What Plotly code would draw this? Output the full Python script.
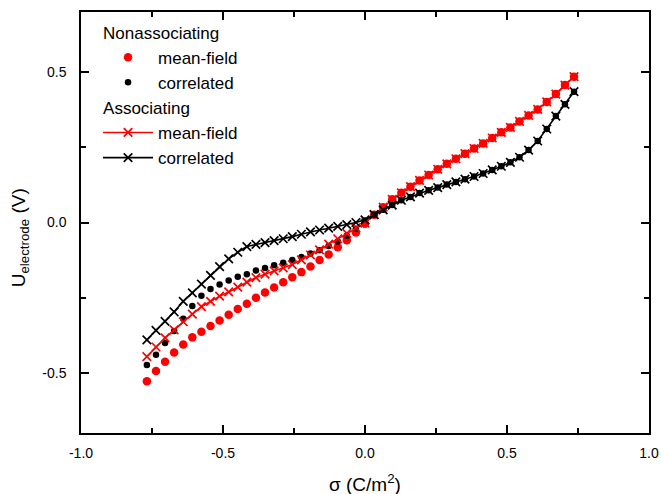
import plotly.graph_objects as go

# surface charge density grid (C/m^2)
sigma = [-0.768, -0.736, -0.704, -0.672, -0.640, -0.608, -0.576, -0.544, -0.512, -0.480,
         -0.448, -0.416, -0.384, -0.352, -0.320, -0.288, -0.256, -0.224, -0.192, -0.160,
         -0.128, -0.096, -0.064, -0.032, 0.000, 0.032, 0.064, 0.096, 0.128, 0.160,
         0.192, 0.224, 0.256, 0.288, 0.320, 0.352, 0.384, 0.416, 0.448, 0.480,
         0.512, 0.544, 0.576, 0.608, 0.640, 0.672, 0.704, 0.736]

# Nonassociating, mean-field
na_mf = [-0.528, -0.494, -0.463, -0.432, -0.406, -0.382, -0.363, -0.344, -0.326, -0.307,
         -0.288, -0.270, -0.250, -0.233, -0.216, -0.199, -0.182, -0.165, -0.146, -0.125,
         -0.106, -0.082, -0.059, -0.033, -0.004, 0.026, 0.051, 0.077, 0.099, 0.119,
         0.140, 0.158, 0.177, 0.195, 0.212, 0.229, 0.246, 0.263, 0.281, 0.300,
         0.316, 0.336, 0.356, 0.376, 0.401, 0.427, 0.457, 0.485]

# Nonassociating, correlated
na_cor = [-0.474, -0.440, -0.401, -0.361, -0.320, -0.278, -0.244, -0.221, -0.206, -0.193,
          -0.180, -0.172, -0.160, -0.151, -0.142, -0.134, -0.125, -0.115, -0.103, -0.092,
          -0.078, -0.063, -0.044, -0.021, 0.007, 0.026, 0.042, 0.058, 0.074, 0.085,
          0.098, 0.107, 0.116, 0.126, 0.135, 0.144, 0.153, 0.163, 0.175, 0.187,
          0.200, 0.217, 0.241, 0.271, 0.311, 0.354, 0.393, 0.435]

# Associating, mean-field
a_mf = [-0.446, -0.414, -0.384, -0.357, -0.330, -0.305, -0.280, -0.262, -0.245, -0.231,
        -0.215, -0.198, -0.183, -0.172, -0.161, -0.151, -0.140, -0.124, -0.108, -0.091,
        -0.072, -0.054, -0.036, -0.018, -0.002, 0.026, 0.051, 0.077, 0.099, 0.119,
        0.140, 0.158, 0.177, 0.195, 0.212, 0.229, 0.246, 0.263, 0.281, 0.300,
        0.316, 0.336, 0.356, 0.376, 0.401, 0.427, 0.457, 0.485]

# Associating, correlated
a_cor = [-0.390, -0.359, -0.329, -0.297, -0.262, -0.234, -0.205, -0.176, -0.147, -0.121,
         -0.099, -0.080, -0.073, -0.067, -0.060, -0.054, -0.047, -0.039, -0.031, -0.025,
         -0.019, -0.013, -0.007, 0.000, 0.009, 0.026, 0.042, 0.058, 0.074, 0.085,
         0.098, 0.107, 0.116, 0.126, 0.135, 0.144, 0.153, 0.163, 0.175, 0.187,
         0.200, 0.217, 0.241, 0.271, 0.311, 0.354, 0.393, 0.435]

x_ticks = [-1.0, -0.5, 0.0, 0.5, 1.0]
x_ticklabels = ["-1.0", "-0.5", "0.0", "0.5", "1.0"]
x_minor = [-0.75, -0.25, 0.25, 0.75]
y_ticks = [-0.5, 0.0, 0.5]
y_ticklabels = ["-0.5", "0.0", "0.5"]
y_minor = [-0.25, 0.25]

RED = "#FF0000"
BLACK = "#000000"
FONT = "Liberation Sans, Arial, sans-serif"

fig = go.Figure()

fig.add_trace(go.Scatter(
    x=sigma, y=na_mf, mode="markers", name="mean-field",
    marker=dict(symbol="circle", size=8.5, color=RED),
    legendgroup="na", legendgrouptitle=dict(text="Nonassociating", font=dict(size=17, color=BLACK)),
))
fig.add_trace(go.Scatter(
    x=sigma, y=na_cor, mode="markers", name="correlated",
    marker=dict(symbol="circle", size=6.5, color=BLACK),
    legendgroup="na",
))
fig.add_trace(go.Scatter(
    x=sigma, y=a_mf, mode="lines+markers", name="mean-field",
    line=dict(color=RED, width=1.6),
    marker=dict(symbol="x-thin", size=8.5, color=RED, line=dict(color=RED, width=1.7)),
    legendgroup="a", legendgrouptitle=dict(text="Associating", font=dict(size=17, color=BLACK)),
))
fig.add_trace(go.Scatter(
    x=sigma, y=a_cor, mode="lines+markers", name="correlated",
    line=dict(color=BLACK, width=1.6),
    marker=dict(symbol="x-thin", size=8.5, color=BLACK, line=dict(color=BLACK, width=1.7)),
    legendgroup="a",
))

axis_common = dict(
    showline=True, linecolor=BLACK, linewidth=1.5, mirror="ticks",
    ticks="inside", ticklen=8, tickwidth=1.5, tickcolor=BLACK,
    showgrid=False, zeroline=False, automargin=False,
    tickfont=dict(family=FONT, size=14, color=BLACK),
)

fig.update_xaxes(
    range=[-1.0, 1.0], tickmode="array", tickvals=x_ticks, ticktext=x_ticklabels,
    minor=dict(tickmode="array", tickvals=x_minor, ticks="inside", ticklen=5, tickwidth=1.5, tickcolor=BLACK, showgrid=False),
    ticklabelstandoff=6,
    **axis_common,
)
fig.update_yaxes(
    range=[-0.7, 0.7], tickmode="array", tickvals=y_ticks, ticktext=y_ticklabels,
    minor=dict(tickmode="array", tickvals=y_minor, ticks="inside", ticklen=5, tickwidth=1.5, tickcolor=BLACK, showgrid=False),
    ticklabelstandoff=10,
    **axis_common,
)

# axis titles as annotations for exact placement
fig.add_annotation(
    text="σ (C/m<sup>2</sup>)", xref="paper", yref="paper", x=0.5, y=-0.119,
    xanchor="center", yanchor="middle", showarrow=False,
    font=dict(family=FONT, size=19, color=BLACK),
)
fig.add_annotation(
    text="U<sub>electrode</sub> (V)", xref="paper", yref="paper", x=-0.107, y=0.463,
    xanchor="center", yanchor="middle", showarrow=False, textangle=-90,
    font=dict(family=FONT, size=19, color=BLACK),
)

fig.update_layout(
    width=661, height=494,
    margin=dict(l=81, r=12, t=12, b=61),
    paper_bgcolor="white", plot_bgcolor="white",
    font=dict(family=FONT, color=BLACK),
    legend=dict(
        x=0.03, y=0.994, xanchor="left", yanchor="top",
        bgcolor="rgba(0,0,0,0)", borderwidth=0,
        font=dict(family=FONT, size=17, color=BLACK),
        traceorder="grouped", tracegroupgap=0, itemwidth=50,
    ),
    showlegend=True,
)

fig.write_html("out.html")
